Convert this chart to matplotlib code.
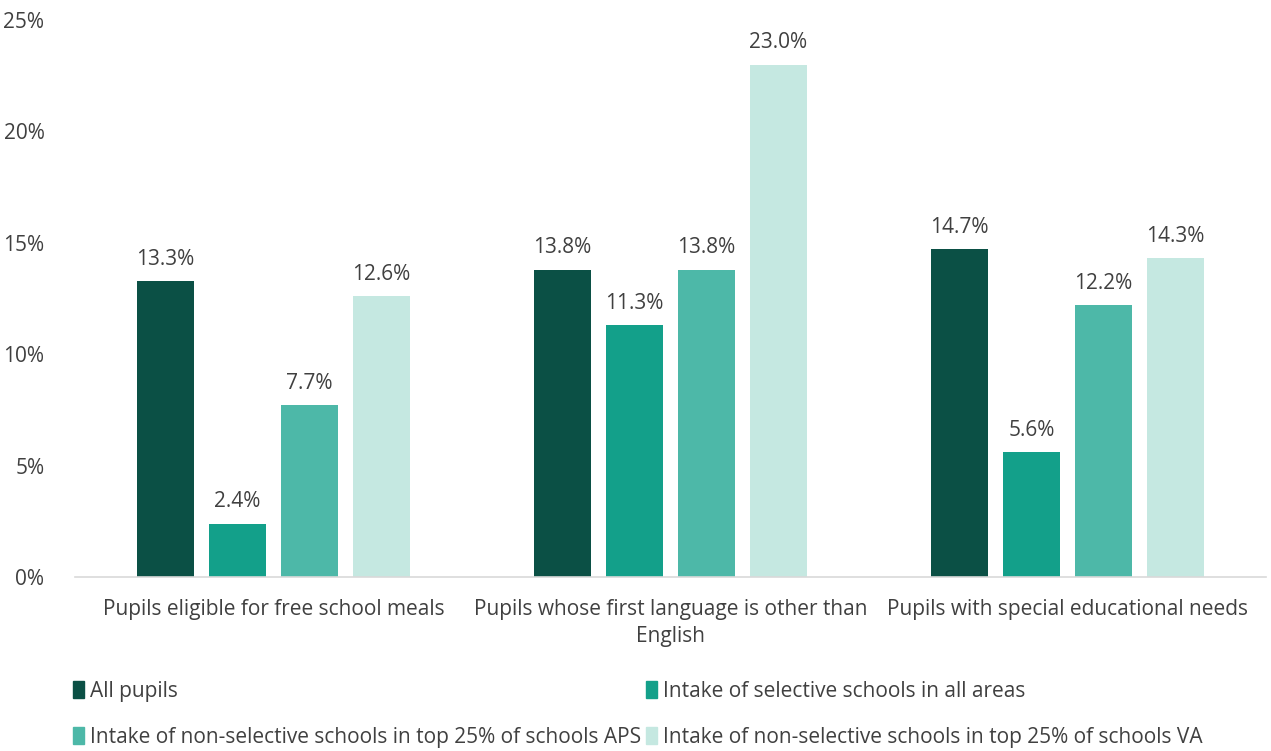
import matplotlib
matplotlib.use("Agg")
import matplotlib.pyplot as plt
import numpy as np
from matplotlib.patches import Patch

categories = ["Pupils eligible for free school meals",
              "Pupils whose first language is other than\nEnglish",
              "Pupils with special educational needs"]
series_names = ["All pupils",
                "Intake of selective schools in all areas",
                "Intake of non-selective schools in top 25% of schools APS",
                "Intake of non-selective schools in top 25% of schools VA"]
all_pupils = [13.3, 13.8, 14.7]
selective = [2.4, 11.3, 5.6]
nonsel_aps = [7.7, 13.8, 12.2]
nonsel_va = [12.6, 23.0, 14.3]
yticks = [0, 5, 10, 15, 20, 25]

colors = ["#0B5045", "#13A08A", "#4DB8A8", "#C5E8E1"]
txt = "#404040"
plt.rcParams['font.family'] = ['Open Sans', 'DejaVu Sans']
fs = 15

fig = plt.figure(figsize=(12.71, 7.51), dpi=100)
ax = fig.add_axes([75/1271, 1-577/751, 1191/1271, 557/751])

data = [all_pupils, selective, nonsel_aps, nonsel_va]
x = np.arange(len(categories))
bw = 57/397
step = 72/397
offsets = (np.arange(4) - 1.5) * step
for i, (vals, c) in enumerate(zip(data, colors)):
    bars = ax.bar(x + offsets[i], vals, width=bw, color=c, label=series_names[i])
    for b, v in zip(bars, vals):
        ax.text(b.get_x() + b.get_width()/2, v + 0.5, f"{v:.1f}%",
                ha="center", va="bottom", fontsize=fs, color=txt)

ax.set_xlim(-0.5, 2.5)
ax.set_ylim(0, 25)
ax.set_yticks(yticks)
ax.set_yticklabels([f"{t}%" for t in yticks], fontsize=fs, color=txt)
ax.set_xticks(x)
ax.set_xticklabels(categories, fontsize=fs, color=txt, linespacing=1.35)
ax.tick_params(axis='both', length=0)
ax.tick_params(axis='y', pad=22)
ax.tick_params(axis='x', pad=16)
for s in ["top", "right", "left"]:
    ax.spines[s].set_visible(False)
ax.spines["bottom"].set_color("#D9D9D9")
ax.spines["bottom"].set_linewidth(1.2)

handles = [Patch(color=c) for c in colors]
order = [0, 2, 1, 3]
leg = fig.legend([handles[i] for i in order], [series_names[i] for i in order],
                 ncol=2, loc="upper left", bbox_to_anchor=(56/1271, 1-664/751),
                 frameon=False, fontsize=fs, handlelength=0.55, handleheight=0.9,
                 handletextpad=0.3, columnspacing=0.2, labelspacing=1.2,
                 labelcolor=txt, borderpad=0.3)
fig.savefig("out.png", dpi=100)
